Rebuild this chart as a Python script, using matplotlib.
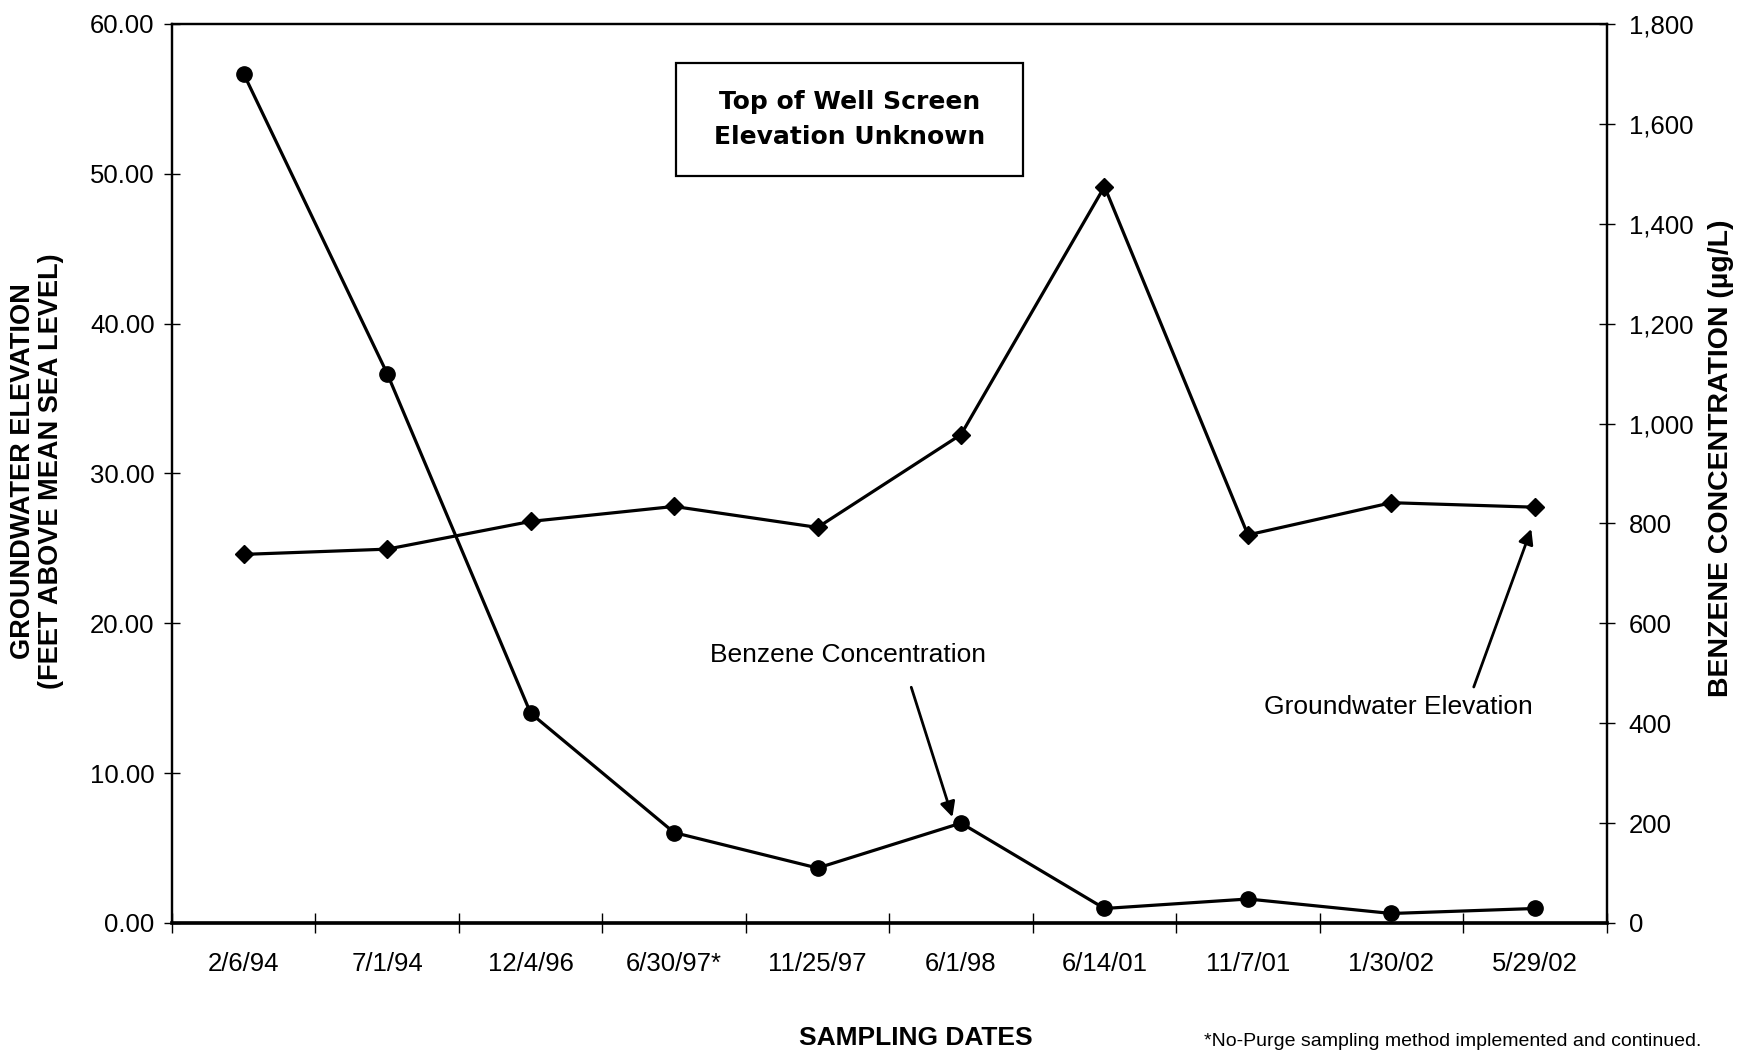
import matplotlib
matplotlib.use("Agg")
import matplotlib.pyplot as plt
from matplotlib.patches import Rectangle
from matplotlib.ticker import FixedLocator, FuncFormatter

dates = ["2/6/94", "7/1/94", "12/4/96", "6/30/97*", "11/25/97",
         "6/1/98", "6/14/01", "11/7/01", "1/30/02", "5/29/02"]
groundwater = [24.6, 24.95, 26.8, 27.8, 26.4, 32.6, 49.15, 25.9, 28.05, 27.75]
benzene = [1700, 1100, 420, 181, 110, 200, 29, 48, 19, 29]
left_ticks = [0, 10, 20, 30, 40, 50, 60]
right_ticks = [0, 200, 400, 600, 800, 1000, 1200, 1400, 1600, 1800]

plt.rcParams['font.family'] = ['Liberation Sans', 'DejaVu Sans']

fig = plt.figure(figsize=(17.41, 10.57), dpi=100)
ax = fig.add_axes([0.0988, 0.1268, 0.8240, 0.8505])
ax2 = ax.twinx()

x = list(range(len(dates)))
ax.plot(x, groundwater, color='black', lw=2.3, marker='D', ms=9.5, zorder=3)
ax2.plot(x, benzene, color='black', lw=2.3, marker='o', ms=11, zorder=3)

ax.set_xlim(-0.5, len(dates) - 0.5)
ax.set_ylim(0, 60)
ax2.set_ylim(0, 1800)

ax.set_xticks(x)
ax.set_xticklabels(dates, fontsize=18.5)
ax.xaxis.set_minor_locator(FixedLocator([i - 0.5 for i in range(len(dates) + 1)]))
ax.tick_params(axis='x', which='major', length=0, pad=21)
ax.tick_params(axis='x', which='minor', length=14, direction='inout', width=1)

ax.set_yticks(left_ticks)
ax.yaxis.set_major_formatter(FuncFormatter(lambda v, p: f"{v:.2f}"))
ax.tick_params(axis='y', labelsize=18.5, length=12, direction='inout', width=1, pad=6.5)

ax2.set_yticks(right_ticks)
ax2.yaxis.set_major_formatter(FuncFormatter(lambda v, p: f"{int(v):,}"))
ax2.tick_params(axis='y', labelsize=18.5, length=12, direction='inout', width=1, pad=10)

for a in (ax, ax2):
    for s in a.spines.values():
        s.set_linewidth(1.6)
        s.set_color('black')
ax.spines['bottom'].set_linewidth(2.6)

fig.text(0.0214, 0.554, "GROUNDWATER ELEVATION\n(FEET ABOVE MEAN SEA LEVEL)",
         rotation=90, ha='center', va='center', fontsize=19.5, fontweight='bold',
         linespacing=1.1)
fig.text(0.9886, 0.566, "BENZENE CONCENTRATION (\u00b5g/L)",
         rotation=90, ha='center', va='center', fontsize=20.5, fontweight='bold')
fig.text(0.526, 0.018, "SAMPLING DATES", ha='center', va='center',
         fontsize=19, fontweight='bold')
fig.text(0.9775, 0.015, "*No-Purge sampling method implemented and continued.",
         ha='right', va='center', fontsize=14)

ax.add_patch(Rectangle((0.3512, 0.831), 0.2418, 0.1256, transform=ax.transAxes,
                       facecolor='white', edgecolor='black', lw=1.6, zorder=5))
ax.text(0.472, 0.894, "Top of Well Screen\nElevation Unknown", transform=ax.transAxes,
        ha='center', va='center', fontsize=18, fontweight='bold',
        family=['DejaVu Sans'], linespacing=1.55, zorder=6)

ax.text(4.21, 17.9, "Benzene Concentration", ha='center', va='center', fontsize=19)
ax2.annotate("", xy=(4.94, 212), xytext=(4.653, 472),
             arrowprops=dict(arrowstyle='-|>,head_length=0.9,head_width=0.45',
                             color='black', lw=2.0, shrinkA=0, shrinkB=0))
ax.text(8.05, 14.4, "Groundwater Elevation", ha='center', va='center', fontsize=19)
ax.annotate("", xy=(8.975, 26.3), xytext=(8.574, 15.75),
            arrowprops=dict(arrowstyle='-|>,head_length=0.9,head_width=0.45',
                            color='black', lw=2.0, shrinkA=0, shrinkB=0))

fig.savefig("out.png", dpi=100)
